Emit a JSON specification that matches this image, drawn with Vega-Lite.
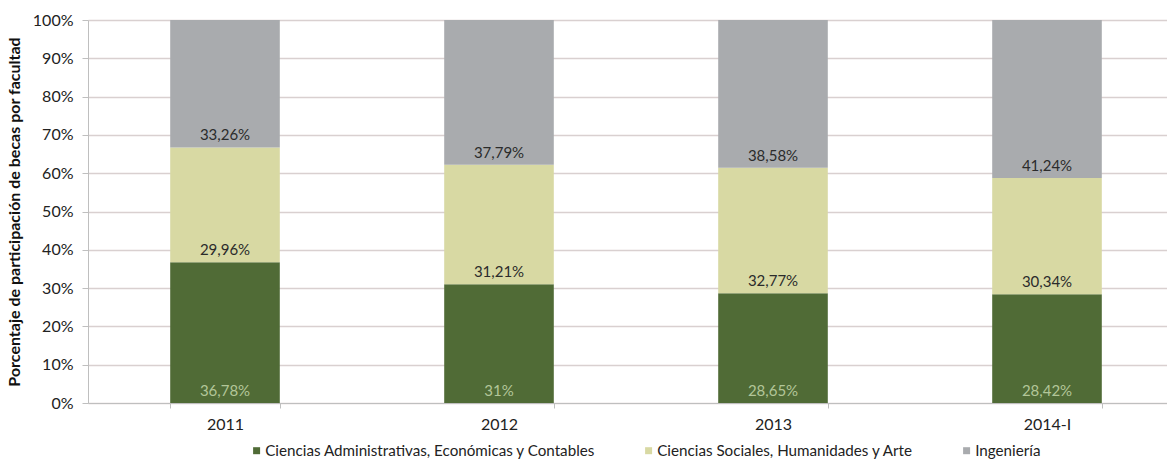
{
  "$schema": "https://vega.github.io/schema/vega-lite/v6.json",
  "autosize": {"type": "none"},
  "padding": {"left": 88, "top": 20, "right": 0, "bottom": 58},
  "width": 1079,
  "height": 383,
  "background": "#ffffff",
  "config": {
    "font": "Lato",
    "view": {"stroke": null}
  },
  "data": {
    "values": [
      {"year": "2011", "facultad": "Ciencias Administrativas, Económicas y Contables", "order": 1, "value": 36.78, "label": "36,78%"},
      {"year": "2011", "facultad": "Ciencias Sociales, Humanidades y Arte", "order": 2, "value": 29.96, "label": "29,96%"},
      {"year": "2011", "facultad": "Ingeniería", "order": 3, "value": 33.26, "label": "33,26%"},
      {"year": "2012", "facultad": "Ciencias Administrativas, Económicas y Contables", "order": 1, "value": 31.0, "label": "31%"},
      {"year": "2012", "facultad": "Ciencias Sociales, Humanidades y Arte", "order": 2, "value": 31.21, "label": "31,21%"},
      {"year": "2012", "facultad": "Ingeniería", "order": 3, "value": 37.79, "label": "37,79%"},
      {"year": "2013", "facultad": "Ciencias Administrativas, Económicas y Contables", "order": 1, "value": 28.65, "label": "28,65%"},
      {"year": "2013", "facultad": "Ciencias Sociales, Humanidades y Arte", "order": 2, "value": 32.77, "label": "32,77%"},
      {"year": "2013", "facultad": "Ingeniería", "order": 3, "value": 38.58, "label": "38,58%"},
      {"year": "2014-I", "facultad": "Ciencias Administrativas, Económicas y Contables", "order": 1, "value": 28.42, "label": "28,42%"},
      {"year": "2014-I", "facultad": "Ciencias Sociales, Humanidades y Arte", "order": 2, "value": 30.34, "label": "30,34%"},
      {"year": "2014-I", "facultad": "Ingeniería", "order": 3, "value": 41.24, "label": "41,24%"}
    ]
  },
  "transform": [
    {"stack": "value", "groupby": ["year"], "sort": [{"field": "order", "order": "ascending"}], "as": ["v0", "v1"]}
  ],
  "encoding": {
    "x": {
      "field": "year",
      "type": "nominal",
      "sort": ["2011", "2012", "2013", "2014-I"],
      "scale": {"range": [0, 1096], "paddingInner": 0.6, "paddingOuter": 0.3},
      "axis": {
        "title": null,
        "labelAngle": 0,
        "labelFontSize": 16,
        "labelColor": "#222222",
        "labelPadding": 8,
        "tickBand": "extent",
        "tickSize": 5,
        "tickColor": "#bfbfbf",
        "domainColor": "#bfbfbf",
        "grid": false
      }
    },
    "y": {
      "field": "v0",
      "type": "quantitative",
      "scale": {"domain": [0, 100], "nice": false},
      "axis": {
        "values": [0, 10, 20, 30, 40, 50, 60, 70, 80, 90, 100],
        "labelExpr": "datum.value + '%'",
        "labelFontSize": 16,
        "labelColor": "#222222",
        "labelPadding": 9,
        "labelOverlap": false,
        "tickSize": 6,
        "tickColor": "#bfbfbf",
        "domainColor": "#bfbfbf",
        "gridColor": "#d9d0d0",
        "gridWidth": 1.3,
        "title": "Porcentaje de participación de becas por facultad",
        "titleFontSize": 16,
        "titleFontWeight": "bold",
        "titleColor": "#111111",
        "titlePadding": 10
      }
    }
  },
  "layer": [
    {
      "mark": {"type": "bar"},
      "encoding": {
        "y2": {"field": "v1"},
        "color": {
          "field": "facultad",
          "type": "nominal",
          "sort": ["Ciencias Administrativas, Económicas y Contables", "Ciencias Sociales, Humanidades y Arte", "Ingeniería"],
          "scale": {
            "domain": ["Ciencias Administrativas, Económicas y Contables", "Ciencias Sociales, Humanidades y Arte", "Ingeniería"],
            "range": ["#506b36", "#d8d9a3", "#a9abae"]
          },
          "legend": {
            "title": null,
            "orient": "none",
            "direction": "horizontal",
            "legendX": 161,
            "legendY": 423,
            "symbolType": "square",
            "symbolSize": 49,
            "symbolStrokeWidth": 0,
            "labelFontSize": 15.2,
            "labelColor": "#222222",
            "labelOffset": 1,
            "columnPadding": 45,
            "labelLimit": 500
          }
        },
        "order": {"field": "order"}
      }
    },
    {
      "mark": {"type": "text", "fontSize": 15, "baseline": "alphabetic", "dy": -7},
      "encoding": {
        "text": {"field": "label"},
        "color": {
          "condition": {"test": "datum.order === 1", "value": "#b3c699"},
          "value": "#2b2b2b"
        }
      }
    }
  ]
}
